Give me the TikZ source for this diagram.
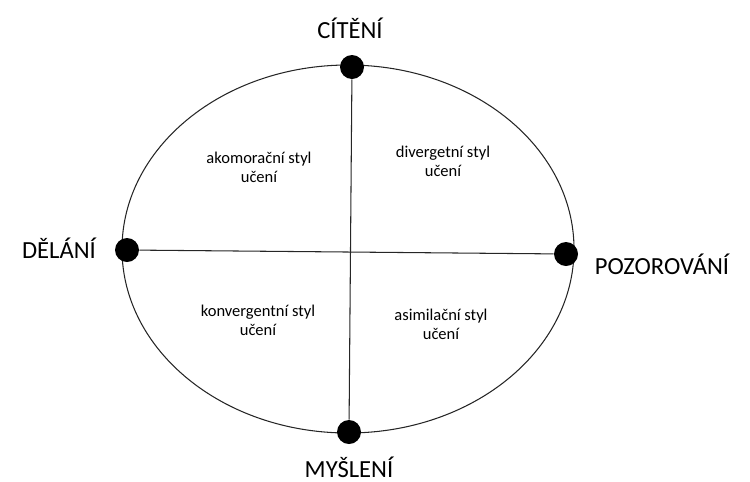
\documentclass[tikz,border=0pt]{standalone}
\usepackage{fontspec}
\setmainfont{Carlito}
\usepackage{tikz}
\usetikzlibrary{positioning}

\begin{document}
\begin{tikzpicture}[
  x=0.02cm, y=-0.02cm,
  pole/.style={circle, fill=black, inner sep=0pt, minimum size=0.48cm},
  axis/.style={line width=0.6pt, black!85},
  big/.style={font=\fontsize{14}{16}\selectfont},
  quad/.style={align=center, font=\fontsize{9.4}{11}\selectfont}
]
\useasboundingbox (0,0) rectangle (750,481);
\draw[axis] (348,249) ellipse [x radius=226, y radius=184];

\node[pole] (top) at (352,67) {};
\node[pole] (bottom) at (349,432) {};
\node[pole] (left) at (127,250) {};
\node[pole] (right) at (566,254) {};

\draw[axis] (top) -- (bottom);
\draw[axis] (left) -- (right);

\node[big] (citeni) at (350,28) {CÍTĚNÍ};
\node[big] (delani) at (59,248) {DĚLÁNÍ};
\node[big] (pozorovani) at (662,264) {POZOROVÁNÍ};
\node[big] (mysleni) at (349,467) {MYŠLENÍ};

\node[quad] (akom) at (259,167) {akomorační styl\\učení};
\node[quad] (diverg) at (443,161) {divergetní styl\\učení};
\node[quad] (konverg) at (258,320) {konvergentní styl\\učení};
\node[quad] (asimil) at (441,324) {asimilační styl\\učení};
\end{tikzpicture}
\end{document}
